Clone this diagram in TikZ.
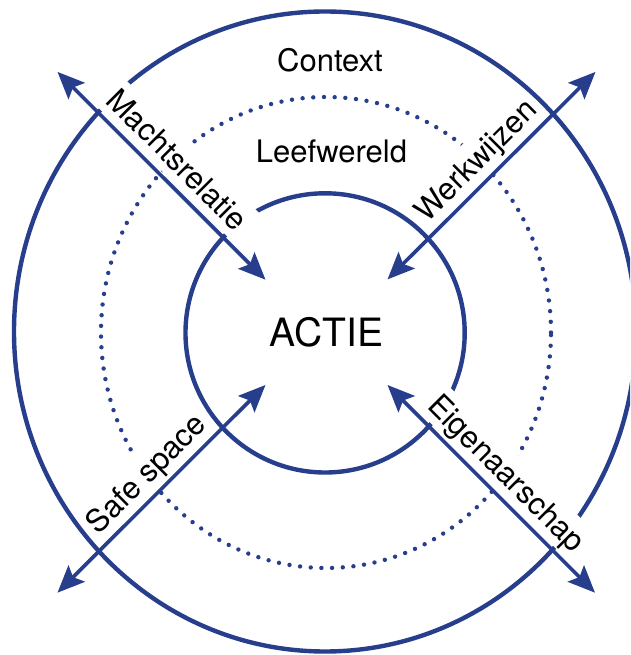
\documentclass[tikz,border=0pt]{standalone}
\usepackage{fontspec}
\setmainfont{TeX Gyre Heros}
\usetikzlibrary{arrows.meta}
\definecolor{ringblue}{RGB}{38,62,140}

\begin{document}
\begin{tikzpicture}[x=1pt, y=1pt,
	ring/.style = {draw=ringblue, line width=4.4pt},
	dots/.style = {draw=ringblue, line width=4.4pt, line cap=round, dash pattern=on 0pt off 10.7pt},
	arrow/.style = {draw=ringblue, line width=3.6pt, {Stealth[length=27pt, width=23pt, inset=5pt]}-{Stealth[length=27pt, width=23pt, inset=5pt]}},
	lbl/.style = {fill=white, font=\fontsize{31}{36}\selectfont, text height=29pt, text depth=6pt, inner ysep=2pt, inner xsep=3pt},
	title/.style = {font=\fontsize{31}{36}\selectfont, anchor=base}]
	\useasboundingbox (-326.5,-322.6) rectangle (303.5,332.4);
	\clip (-326.5,-322.6) rectangle (303.5,332.4);
	% rings
	\draw[ring] (-1.5,0.9) ellipse [x radius=311, y radius=320];
	\draw[dots] (-0.5,-0.1) ellipse [x radius=225, y radius=235.5];
	\draw[ring] (-1.4,-0.5) circle [radius=139.6];
	\node[title] (context) at (3.5,260.4) {Context};
	\node[title] (leef) at (5,169.4) {Leefwereld};
	\node[title, font=\fontsize{39}{44}\selectfont] (actie) at (0,-14.6) {ACTIE};
	% arrow ends
	\coordinate (1) at (-269,260.5);
	\coordinate (2) at (-61,52.7);
	\coordinate (3) at (61,53);
	\coordinate (4) at (269,260.5);
	\coordinate (5) at (-269,-260.3);
	\coordinate (6) at (-61,-52.6);
	\coordinate (7) at (61,-52.6);
	\coordinate (8) at (268.5,-260.3);
	\draw[arrow] (1) -- (2) node[lbl, midway, above=1.8pt, sloped] {Machtsrelatie};
	\draw[arrow] (3) -- (4) node[lbl, midway, above=1.8pt, sloped] {Werkwijzen};
	\draw[arrow] (5) -- (6) node[lbl, midway, above=1.8pt, sloped] {Safe space};
	\draw[arrow] (7) -- (8) node[lbl, midway, above=1.8pt, sloped] {Eigenaarschap};
\end{tikzpicture}
\end{document}
